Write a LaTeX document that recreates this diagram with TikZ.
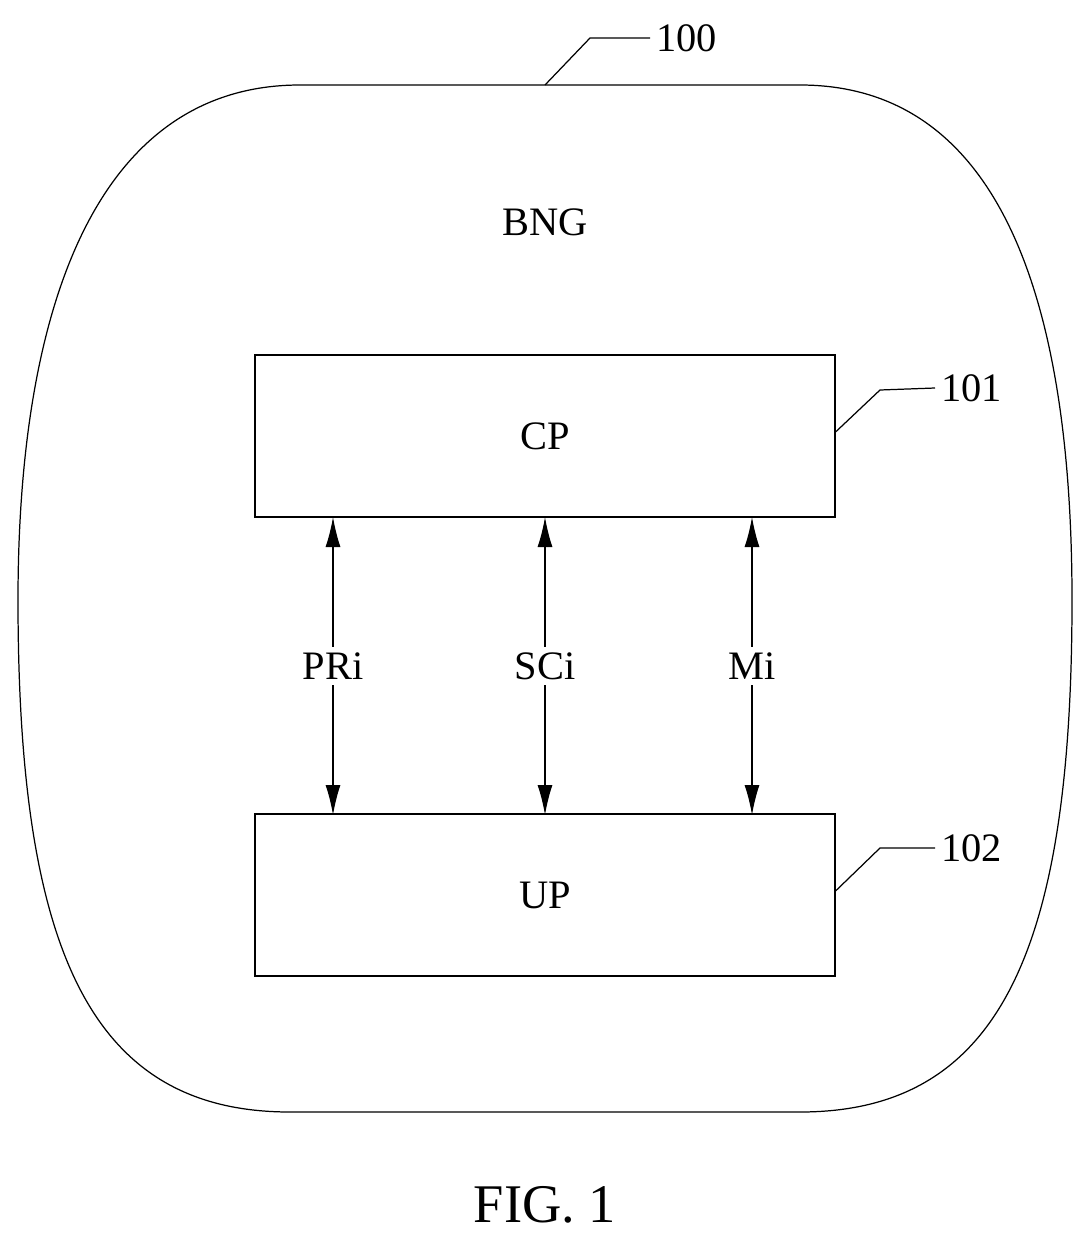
\documentclass[tikz,border=0pt]{standalone}
\usepackage{fontspec}
\setmainfont{Liberation Serif}
\usetikzlibrary{arrows.meta,positioning}
\tikzset{
  block/.style={rectangle, draw=black, minimum width=11.6cm, minimum height=3.24cm, font=\fontsize{23}{27}\selectfont},
  link/.style={{Latex[length=0.6cm,width=0.3cm]}-{Latex[length=0.6cm,width=0.3cm]}},
  lbl/.style={font=\fontsize{23}{27}\selectfont},
  lead/.style={draw=black}
}
\begin{document}
\begin{tikzpicture}[x=0.02cm, y=-0.02cm, line width=0.7pt]
  \useasboundingbox (0,0) rectangle (1090,1244);
  % outer BNG boundary
  \draw (300,85) -- (800,85) .. controls (1000,85) and (1072,300) .. (1072,600)
     .. controls (1072,950) and (1000,1112) .. (800,1112) -- (290,1112)
     .. controls (90,1112) and (18,950) .. (18,600)
     .. controls (18,300) and (100,85) .. (300,85);
  \node[lbl] (bng) at (545,222) {BNG};
  \node[block] (cp) at (545,436) {CP};
  \node[block] (up) at (545,895) {UP};

  %arrows
  \foreach \x/\t in {333/PRi,545/SCi,752/Mi}{
    \coordinate (a) at (\x,517);
    \coordinate (b) at (\x,815);
    \draw[link] (a) -- node[lbl, fill=white, inner sep=3pt]{\t} (b);
  }

  %reference numbers
  \coordinate (n0) at (545,85);
  \node[lbl, anchor=west] (r0) at (650,38) {100};
  \draw[lead] (n0) -- (590,38) -- (r0.west);
  \node[lbl, anchor=west] (r1) at (935,388) {101};
  \draw[lead] (cp.east) ++(0,-4) -- (880,390) -- (r1.west);
  \node[lbl, anchor=west] (r2) at (935,848) {102};
  \draw[lead] (up.east) ++(0,-4) -- (880,848) -- (r2.west);

  \node[font=\fontsize{31}{35}\selectfont] (fig) at (545,1205) {FIG. 1};
\end{tikzpicture}
\end{document}
